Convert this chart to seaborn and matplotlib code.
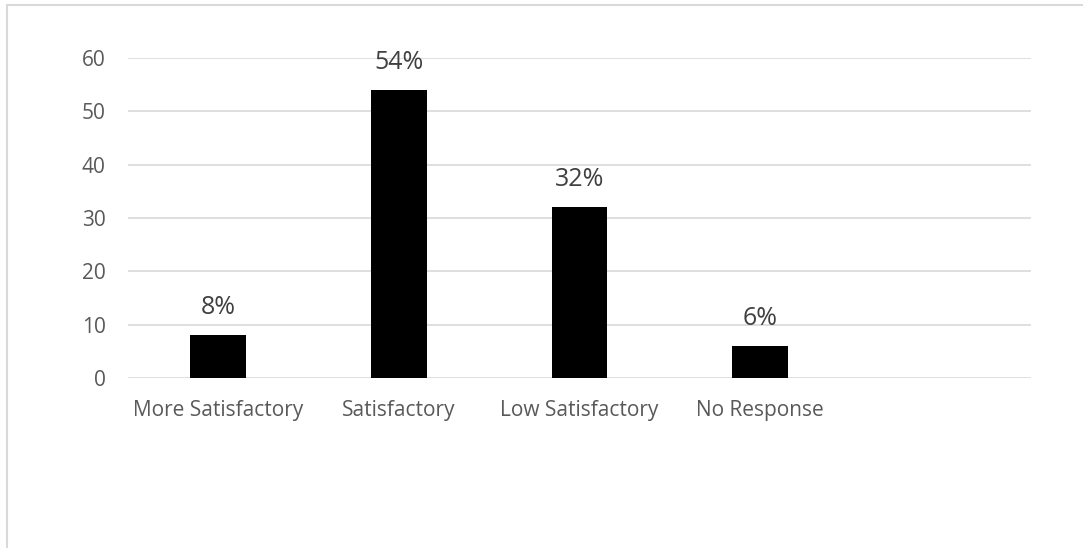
import matplotlib
matplotlib.use("Agg")
import matplotlib.pyplot as plt
import seaborn as sns
from matplotlib.lines import Line2D

categories = ["More Satisfactory", "Satisfactory", "Low Satisfactory", "No Response"]
values = [8, 54, 32, 6]
value_labels = ["8%", "54%", "32%", "6%"]
yticks = [0, 10, 20, 30, 40, 50, 60]

sns.set_theme(style="white")
plt.rcParams['font.family'] = ['Open Sans', 'DejaVu Sans']

TEXT = "#595959"
GRID = "#d9d9d9"

fig = plt.figure(figsize=(10.83, 5.48), dpi=100)
ax = fig.add_axes([128/1083, 1 - 378/548, (1031-128)/1083, (378-58)/548])

sns.barplot(x=categories, y=values, color="black", width=0.31, ax=ax,
            saturation=1, edgecolor="none")

ax.set_xlim(-0.5, 4.5)
ax.set_ylim(0, 60)
ax.set_yticks(yticks)
ax.set_yticklabels([str(t) for t in yticks])
ax.set_xlabel("")
ax.set_ylabel("")

ax.yaxis.grid(True, color=GRID, linewidth=1.2)
ax.xaxis.grid(False)
ax.set_axisbelow(True)
for s in ax.spines.values():
    s.set_visible(False)

ax.tick_params(axis="both", length=0, labelsize=15, colors=TEXT)
ax.tick_params(axis="y", pad=16)
ax.tick_params(axis="x", pad=16)
for lbl in ax.get_xticklabels() + ax.get_yticklabels():
    lbl.set_color(TEXT)

ax.bar_label(ax.containers[0], labels=value_labels, padding=11,
             fontsize=18, color="#404040")

# outer chart border (left and top)
fig.add_artist(Line2D([7/1083, 7/1083], [0, 1 - 5/548], transform=fig.transFigure,
                      color=GRID, linewidth=1.5))
fig.add_artist(Line2D([7/1083, 1], [1 - 5/548, 1 - 5/548], transform=fig.transFigure,
                      color=GRID, linewidth=1.5))

fig.savefig("out.png", dpi=100)
